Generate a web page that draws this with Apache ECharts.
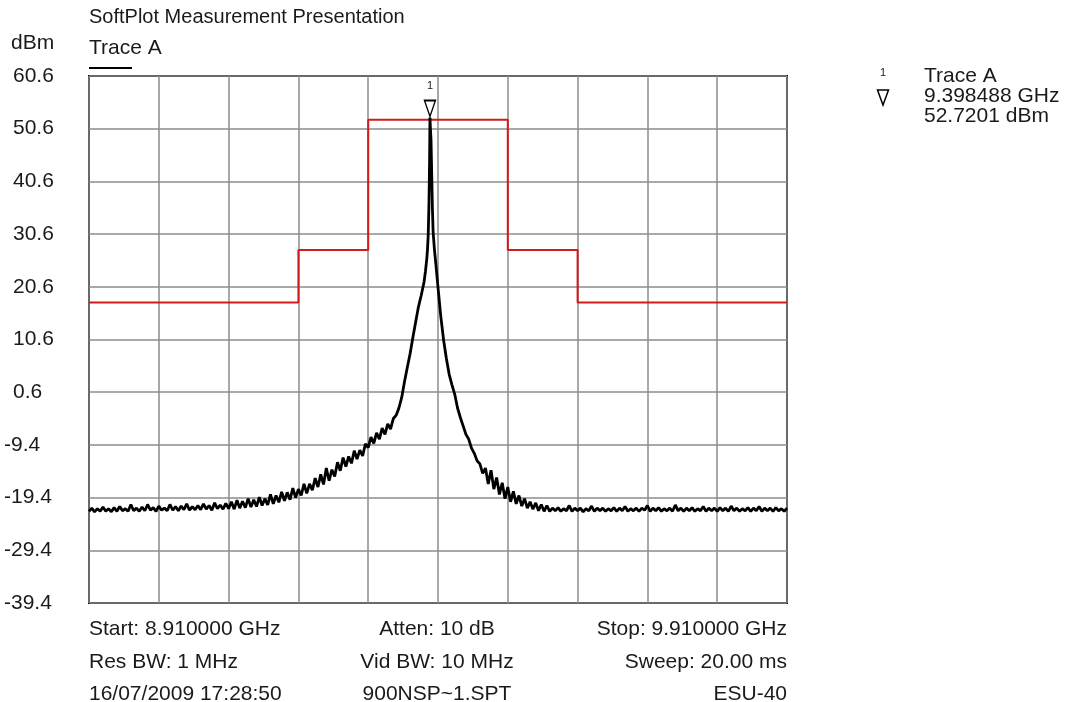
<!DOCTYPE html>
<html><head><meta charset="utf-8">
<script src="https://cdn.jsdelivr.net/npm/echarts@6/dist/echarts.min.js"></script>
<style>html,body{margin:0;padding:0;background:#fff}#c{width:1066px;height:702px}</style>
</head><body><div id="c"></div>
<script>
// ---- data ----
const sweepStartGHz = 8.91;
const sweepStopGHz = 9.91;
const sweepStepGHz = 0.004;
const yMin = -39.4, yMax = 60.6, yStep = 10;

// trace from 8.910 GHz in 4 MHz steps (to 9.390 GHz)
const leftSweepDbm = [
  -22.0,-21.4,-22.1,-21.5,-22.0,-21.2,-22.0,-21.5,-22.1,-21.3,
  -22.0,-21.1,-21.9,-21.5,-22.0,-20.7,-21.9,-21.4,-22.0,-21.2,
  -21.9,-20.7,-21.8,-21.3,-22.0,-21.0,-21.8,-21.4,-21.9,-20.7,
  -21.8,-21.1,-21.9,-21.0,-21.7,-20.6,-21.8,-21.1,-21.7,-20.9,
  -21.7,-20.6,-21.6,-20.9,-21.8,-20.4,-21.5,-20.8,-21.6,-20.5,
  -21.5,-20.2,-21.6,-19.9,-21.4,-20.1,-21.3,-19.6,-21.2,-19.8,
  -21.1,-19.3,-20.9,-19.6,-20.8,-18.8,-20.6,-19.0,-20.3,-18.3,
  -20.0,-18.4,-19.8,-17.6,-19.4,-17.8,-19.0,-16.8,-18.6,-16.8,
  -18.0,-15.7,-17.4,-15.0,-16.9,-13.8,-16.2,-14.1,-15.4,-12.7,
  -14.3,-11.8,-13.5,-11.6,-12.9,-10.5,-12.1,-10.4,-11.5,-9.2,
  -9.9,-7.9,-9.1,-7.1,-8.3,-6.2,-7.4,-5.4,-6.4,-4.4,
  -3.8,-2.4,-0.4,2.6,5.3,7.9,11.0,13.9,16.8,19.0,21.5
];
// carrier peak, finer resolution
const peakFreqGHz = [9.392,9.394,9.395,9.396,9.397,9.398,9.398488,9.399,9.400,9.401,9.402,9.403,9.405,9.407];
const peakDbm     = [23.5, 26.0, 27.8, 30.5, 36.0, 45.0, 52.7201, 51.0, 48.5, 42.0, 35.5, 31.0, 27.5, 24.8];
// trace from 9.410 GHz in 4 MHz steps (to 9.910 GHz)
const rightSweepStartGHz = 9.41;
const rightSweepDbm = [
  20.5,15.0,10.5,7.0,4.0,2.0,0.2,-2.4,-4.2,-5.8,
  -7.4,-8.3,-10.0,-11.0,-12.4,-13.0,-14.8,-13.8,-16.8,-14.2,
  -17.8,-15.6,-18.8,-16.6,-19.6,-17.4,-20.2,-18.2,-20.6,-19.0,
  -21.0,-19.6,-21.4,-20.2,-21.6,-20.4,-21.9,-20.7,-22.0,-20.9,
  -22.0,-21.4,-21.9,-21.3,-22.0,-21.5,-21.9,-20.9,-22.0,-21.4,
  -21.9,-21.4,-22.1,-21.5,-21.9,-21.0,-22.0,-21.4,-21.9,-21.4,
  -22.0,-21.5,-21.9,-21.3,-22.0,-21.4,-21.9,-21.1,-22.0,-21.5,
  -21.9,-21.4,-22.0,-21.4,-21.8,-20.9,-22.0,-21.4,-21.9,-21.3,
  -22.0,-21.5,-21.9,-21.4,-22.0,-20.8,-21.9,-21.4,-22.0,-21.4,
  -21.9,-21.3,-22.0,-21.5,-21.9,-21.1,-22.0,-21.4,-21.9,-21.4,
  -22.0,-21.3,-21.9,-21.4,-22.0,-21.0,-21.9,-21.4,-22.0,-21.5,
  -21.9,-21.3,-22.0,-21.4,-21.9,-21.1,-22.0,-21.4,-21.9,-21.4,
  -22.0,-21.3,-21.9,-21.5,-22.0,-21.4
];
// limit line (mask)
const limitFreqGHz = [8.91, 9.21, 9.21, 9.31, 9.31, 9.51, 9.51, 9.61, 9.61, 9.91];
const limitDbm     = [17.6, 17.6, 27.6, 27.6, 52.3, 52.3, 27.6, 27.6, 17.6, 17.6];
// marker
const markerFreqGHz = 9.398488;
const markerDbm = 52.7201;
// texts
const titleText = 'SoftPlot Measurement Presentation';
const traceName = 'Trace A';
const yUnit = 'dBm';
const footerRows = [
  ['Start: 8.910000 GHz', 'Atten: 10 dB', 'Stop: 9.910000 GHz'],
  ['Res BW: 1 MHz', 'Vid BW: 10 MHz', 'Sweep: 20.00 ms'],
  ['16/07/2009 17:28:50', '900NSP~1.SPT', 'ESU-40']
];
const markerInfo = ['Trace A', '9.398488 GHz', '52.7201 dBm'];

// ---- build ----
const r6 = v => Math.round(v * 1e6) / 1e6;
const traceData = [];
leftSweepDbm.forEach((v, i) => traceData.push([r6(sweepStartGHz + i * sweepStepGHz), v]));
peakFreqGHz.forEach((f, i) => traceData.push([f, peakDbm[i]]));
rightSweepDbm.forEach((v, i) => traceData.push([r6(rightSweepStartGHz + i * sweepStepGHz), v]));
const limitData = limitFreqGHz.map((f, i) => [f, limitDbm[i]]);

const FONT = 'Liberation Sans, Arial, sans-serif';
const FS = 21;
const TXT = '#1a1a1a';
const G = {left: 89, right: 279, top: 76, bottom: 99};
const plotL = G.left, plotR = 1066 - G.right;

const graphics = [
  {type:'text', x: 89, y: 17, style:{text: titleText, font: `20px ${FONT}`, fill: TXT, verticalAlign:'middle'}},
  {type:'text', x: 89, y: 48, style:{text: traceName, font: `${FS}px ${FONT}`, fill: TXT, verticalAlign:'middle'}},
  {type:'text', x: 11, y: 43, style:{text: yUnit, font: `${FS}px ${FONT}`, fill: TXT, verticalAlign:'middle'}},
  {type:'line', shape:{x1: 89, y1: 68, x2: 132, y2: 68}, style:{stroke:'#000', lineWidth: 2}},
  {type:'text', x: 883, y: 73, style:{text:'1', font:`11px ${FONT}`, fill: TXT, align:'center', verticalAlign:'middle'}},
  {type:'polygon', shape:{points:[[877.5,90],[888.5,90],[883,105]]}, style:{fill:'#fff', stroke:'#000', lineWidth:1.5}}
];
markerInfo.forEach((t, i) => graphics.push({type:'text', x: 924, y: 76 + i * 20, style:{text: t, font:`${FS}px ${FONT}`, fill: TXT, verticalAlign:'middle'}}));
const rowY = [629, 662, 694];
footerRows.forEach((row, r) => {
  graphics.push({type:'text', x: plotL, y: rowY[r], style:{text: row[0], font:`${FS}px ${FONT}`, fill: TXT, align:'left', verticalAlign:'middle'}});
  graphics.push({type:'text', x: 437, y: rowY[r], style:{text: row[1], font:`${FS}px ${FONT}`, fill: TXT, align:'center', verticalAlign:'middle'}});
  graphics.push({type:'text', x: plotR, y: rowY[r], style:{text: row[2], font:`${FS}px ${FONT}`, fill: TXT, align:'right', verticalAlign:'middle'}});
});

const chart = echarts.init(document.getElementById('c'), null, {renderer:'canvas'});
chart.setOption({
  animation: false,
  backgroundColor: '#fff',
  grid: {left: G.left, right: G.right, top: G.top, bottom: G.bottom, show: true, borderColor: '#000', borderWidth: 2, backgroundColor: 'transparent', containLabel: false},
  xAxis: {
    type: 'value', min: sweepStartGHz, max: sweepStopGHz, interval: 0.1,
    axisLine: {show: false}, axisTick: {show: false}, axisLabel: {show: false},
    splitLine: {show: true, lineStyle: {color: '#8c8c8c', width: 1.5}}
  },
  yAxis: {
    type: 'value', min: yMin, max: yMax, interval: yStep,
    axisLine: {show: false}, axisTick: {show: false},
    splitLine: {show: true, lineStyle: {color: '#8c8c8c', width: 1.5}},
    axisLabel: {
      show: true, align: 'left', margin: 85, color: TXT, fontSize: FS, fontFamily: FONT,
      formatter: v => { const s = (Math.round(v * 10) / 10).toFixed(1); return v >= 0 ? '{p|' + s + '}' : '{n|' + s + '}'; },
      rich: {p: {padding: [0, 0, 0, 9], fontSize: FS, fontFamily: FONT, color: TXT}, n: {fontSize: FS, fontFamily: FONT, color: TXT}}
    }
  },
  graphic: graphics,
  series: [
    {type:'line', name:'Limit', data: limitData, showSymbol:false, lineStyle:{color:'#d41a1a', width:2}, z: 3, silent: true},
    {type:'line', name: traceName, data: traceData, showSymbol:false, lineStyle:{color:'#000', width:2.8, join:'bevel'}, z: 4, silent: true,
      markPoint: {
        symbol: 'path://M0,0 L10,0 L5,16 Z', symbolSize: [11, 16], symbolOffset: [0, -9],
        itemStyle: {color: '#fff', borderColor: '#000', borderWidth: 1.5},
        label: {show: true, position: 'top', distance: 8, formatter: '1', fontSize: 11, fontFamily: FONT, color: TXT},
        data: [{coord: [markerFreqGHz, markerDbm]}]
      }
    }
  ]
});
</script>
</body></html>
